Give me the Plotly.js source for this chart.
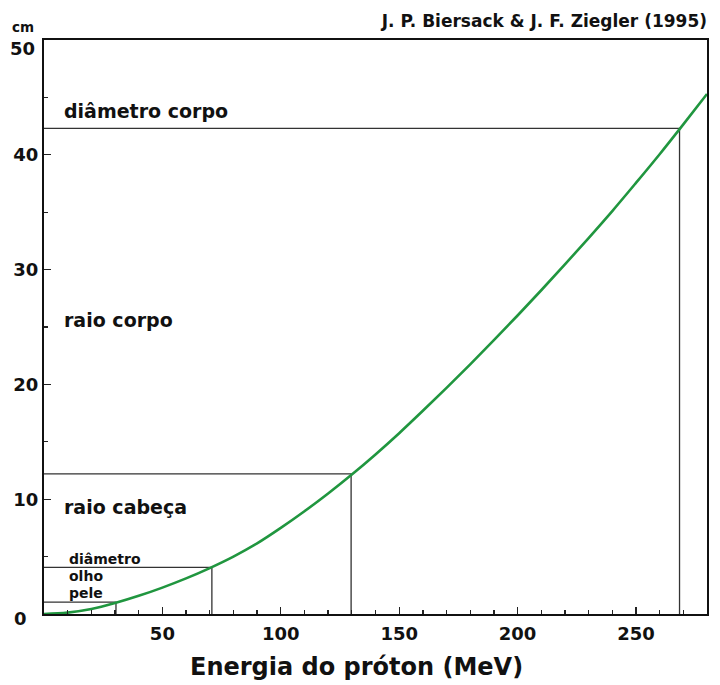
<!DOCTYPE html>
<html>
<head>
<meta charset="utf-8">
<script src="https://cdn.plot.ly/plotly-3.0.1.min.js"></script>
<style>html,body{margin:0;padding:0;background:#fff;}#chart{width:720px;height:685px;}</style>
</head>
<body>
<div id="chart"></div>
<script>
// Proton energy (MeV) and range in water (cm)
const energy = [0, 10, 20, 30, 40, 50, 60, 70, 80, 90, 100, 110, 120, 130, 140, 150, 160, 170, 180, 190, 200, 210, 220, 230, 240, 250, 260, 270, 280];
const rangeCm = [0.0, 0.12, 0.43, 0.95, 1.58, 2.3, 3.1, 4.0, 5.0, 6.15, 7.5, 8.95, 10.5, 12.15, 13.9, 15.75, 17.7, 19.7, 21.75, 23.85, 26.0, 28.2, 30.45, 32.75, 35.1, 37.55, 40.05, 42.65, 45.3];

// Reference depths: energy needed to reach each depth
const refEnergy = [30.4, 70.9, 129.7, 268.4];
const refDepth = [1.03, 4.07, 12.2, 42.3];

// Region labels
const bigLabels = ["diâmetro corpo", "raio corpo", "raio cabeça"];
const bigLabelY = [43.8, 25.6, 9.36];
const smallLabels = ["diâmetro", "olho", "pele"];
const smallLabelY = [4.8, 3.29, 1.85];

const xTickVals = [50, 100, 150, 200, 250];
const yTickVals = [10, 20, 30, 40];

const FONT = "DejaVu Sans, Verdana, sans-serif";

const traces = [];
for (let i = 0; i < refEnergy.length; i++) {
  traces.push({
    x: [0, refEnergy[i], refEnergy[i]],
    y: [refDepth[i], refDepth[i], 0],
    mode: "lines",
    line: {color: "#333333", width: 1.3},
    hoverinfo: "skip",
    showlegend: false
  });
}
traces.push({
  x: energy, y: rangeCm,
  mode: "lines",
  line: {color: "#20963f", width: 2.6, shape: "spline", smoothing: 1},
  showlegend: false
});

const annotations = [];
bigLabels.forEach((t, i) => annotations.push({
  text: "<b>" + t + "</b>", x: 7.8, y: bigLabelY[i], xref: "x", yref: "y",
  xanchor: "left", yanchor: "middle", showarrow: false,
  font: {family: FONT, size: 19, color: "#111"}
}));
smallLabels.forEach((t, i) => annotations.push({
  text: "<b>" + t + "</b>", x: 9.8, y: smallLabelY[i], xref: "x", yref: "y",
  xanchor: "left", yanchor: "middle", showarrow: false,
  font: {family: FONT, size: 14, color: "#111"}
}));
annotations.push({
  text: "<b>cm</b>", x: -0.031, y: 1.022, xref: "paper", yref: "paper",
  xanchor: "center", yanchor: "middle", showarrow: false,
  font: {family: FONT, size: 13.5, color: "#111"}
});
annotations.push({
  text: "<b>50</b>", x: -0.0105, y: 50, xref: "paper", yref: "y", yshift: -8,
  xanchor: "right", yanchor: "middle", showarrow: false,
  font: {family: FONT, size: 18, color: "#111"}
});
annotations.push({
  text: "<b>0</b>", x: -0.023, y: 0, xref: "paper", yref: "y", yshift: -4,
  xanchor: "right", yanchor: "middle", showarrow: false,
  font: {family: FONT, size: 18, color: "#111"}
});
// x-axis title (placed slightly left of centre, as in the reference)
annotations.push({
  text: "<b>Energia do próton (MeV)</b>", x: 0.472, y: -0.0931, xref: "paper", yref: "paper",
  xanchor: "center", yanchor: "middle", showarrow: false,
  font: {family: FONT, size: 24, color: "#111"}
});

const layout = {
  width: 720, height: 685,
  margin: {l: 44, r: 13, t: 40, b: 71},
  paper_bgcolor: "#ffffff", plot_bgcolor: "#ffffff",
  font: {family: FONT, color: "#111"},
  title: {
    text: "<b>J. P. Biersack &amp; J. F. Ziegler (1995)</b>",
    x: 0.982, xanchor: "right", xref: "container",
    y: 0.9686, yanchor: "middle", yref: "container",
    font: {family: FONT, size: 17, color: "#111"}
  },
  xaxis: {
    range: [0, 280], showgrid: false, zeroline: false,
    showline: true, linecolor: "#111", linewidth: 2, mirror: true,
    tickmode: "array", tickvals: xTickVals, ticktext: xTickVals.map(v => "<b>" + v + "</b>"),
    ticks: "inside", ticklen: 7, tickwidth: 1.3, tickcolor: "#222",
    minor: {dtick: 10, tick0: 0, ticks: "inside", ticklen: 4, tickwidth: 1.3, tickcolor: "#222", showgrid: false},
    tickfont: {family: FONT, size: 18, color: "#111"},
    ticklabelstandoff: 2,
    fixedrange: true
  },
  yaxis: {
    range: [0, 50], showgrid: false, zeroline: false,
    showline: true, linecolor: "#111", linewidth: 2, mirror: true,
    tickmode: "array", tickvals: yTickVals, ticktext: yTickVals.map(v => "<b>" + v + "</b>"),
    ticks: "inside", ticklen: 7, tickwidth: 1.3, tickcolor: "#222",
    minor: {dtick: 5, tick0: 0, ticks: "inside", ticklen: 4, tickwidth: 1.3, tickcolor: "#222", showgrid: false},
    tickfont: {family: FONT, size: 18, color: "#111"},
    fixedrange: true
  },
  annotations: annotations,
  showlegend: false
};

Plotly.newPlot("chart", traces, layout, {displayModeBar: false, staticPlot: true});
</script>
</body>
</html>
